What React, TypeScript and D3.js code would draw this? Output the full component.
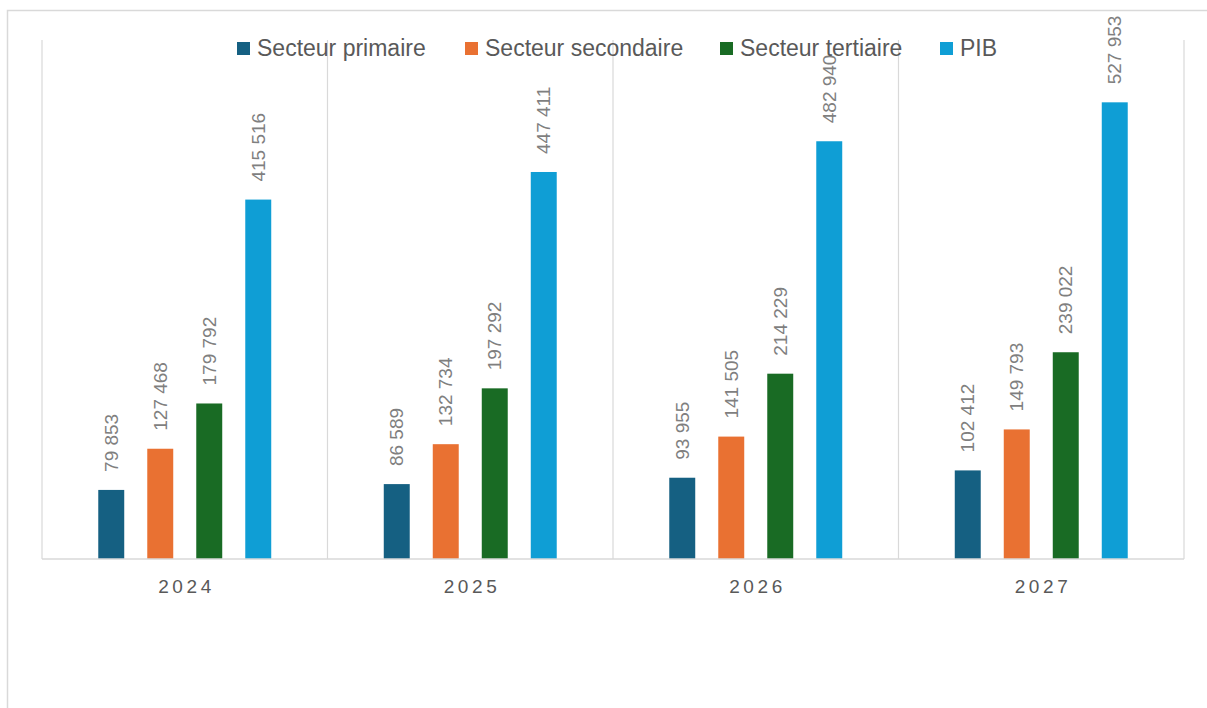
import React from "react";
import * as d3 from "d3";

// Years shown on the category axis
const years = ["2024", "2025", "2026", "2027"];

// Series names and colours
const seriesNames = ["Secteur primaire", "Secteur secondaire", "Secteur tertiaire", "PIB"];
const seriesColors = ["#156082", "#E97132", "#196B24", "#0F9ED5"];

// Values per series, one per year
const primaire = [79853, 86589, 93955, 102412];
const secondaire = [127468, 132734, 141505, 149793];
const tertiaire = [179792, 197292, 214229, 239022];
const pib = [415516, 447411, 482940, 527953];

const seriesValues = [primaire, secondaire, tertiaire, pib];

const W = 1207;
const H = 708;
const plot = { left: 42, right: 1184, top: 40, bottom: 559 };
const yMax = 600000;

const FONT = "'Liberation Sans', Arial, sans-serif";
const fmt = (v: number) => d3.format(",")(v).replace(/,/g, " ");

export default function App() {
  const x = d3.scaleBand<string>().domain(years).range([plot.left, plot.right]).padding(0);
  const y = d3.scaleLinear().domain([0, yMax]).range([plot.bottom, plot.top]);

  const groupWidth = 196;
  const inner = d3
    .scaleBand<string>()
    .domain(seriesNames)
    .range([-groupWidth / 2, groupWidth / 2])
    .paddingInner(0.47)
    .paddingOuter(0.235);

  const boundaries = years.map((yr) => x(yr) as number).concat([plot.right]);

  const legendOffsets = [237, 465, 720, 940];
  const letterSpacing = 3.6;

  return (
    <div style={{ position: "absolute", left: 0, top: 0 }}>
      <svg width={W} height={H} style={{ display: "block", background: "#fff" }}>
        {/* chart frame */}
        <rect x={7.5} y={10.5} width={W + 20} height={H + 20} fill="#fff" stroke="#d9d9d9" strokeWidth={1.5} />

        {/* vertical category separators */}
        {boundaries.map((bx, i) => (
          <line key={"g" + i} x1={bx} x2={bx} y1={plot.top} y2={plot.bottom} stroke="#d9d9d9" strokeWidth={1.2} />
        ))}

        {/* bars */}
        {years.map((yr, i) => {
          const cx = (x(yr) as number) + x.bandwidth() / 2;
          return (
            <g key={yr}>
              {seriesNames.map((s, j) => {
                const v = seriesValues[j][i];
                const bx = cx + (inner(s) as number);
                const top = y(v);
                return (
                  <rect
                    key={s}
                    x={bx}
                    y={top}
                    width={inner.bandwidth()}
                    height={y(0) - top}
                    fill={seriesColors[j]}
                  />
                );
              })}
            </g>
          );
        })}

        {/* value labels */}
        {years.map((yr, i) => {
          const cx = (x(yr) as number) + x.bandwidth() / 2;
          return seriesNames.map((s, j) => {
            const v = seriesValues[j][i];
            const lx = cx + (inner(s) as number) + inner.bandwidth() / 2;
            const ly = y(v) - 18;
            return (
              <text
                key={yr + s}
                transform={`translate(${lx},${ly}) rotate(-90)`}
                textAnchor="start"
                dy="0.35em"
                fontFamily={FONT}
                fontSize={19}
                fill="#7f7f7f"
              >
                {fmt(v)}
              </text>
            );
          });
        })}

        {/* baseline */}
        <line x1={plot.left} x2={plot.right} y1={plot.bottom} y2={plot.bottom} stroke="#d9d9d9" strokeWidth={1.5} />

        {/* category labels */}
        {years.map((yr) => (
          <text
            key={"c" + yr}
            x={(x(yr) as number) + x.bandwidth() / 2 + letterSpacing / 2}
            y={593}
            textAnchor="middle"
            fontFamily={FONT}
            fontSize={19}
            letterSpacing={letterSpacing}
            fill="#595959"
          >
            {yr}
          </text>
        ))}

        {/* legend */}
        {seriesNames.map((s, j) => (
          <g key={"l" + s} transform={`translate(${legendOffsets[j]},0)`}>
            <rect x={0} y={42} width={13} height={13} fill={seriesColors[j]} />
            <text x={20} y={56} fontFamily={FONT} fontSize={23} fill="#595959">
              {s}
            </text>
          </g>
        ))}
      </svg>
    </div>
  );
}
